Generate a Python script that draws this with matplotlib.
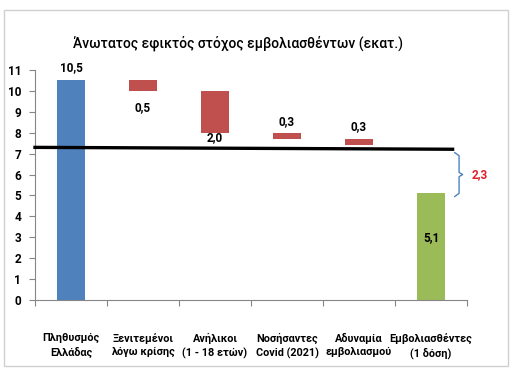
import matplotlib
matplotlib.use('Agg')
from matplotlib import pyplot as plt
from matplotlib.patches import Rectangle

plt.rcParams['font.family'] = ['Roboto', 'DejaVu Sans']

# Δεδομένα
kathgories = ['Πληθυσμός\nΕλλάδας', 'Ξενιτεμένοι\nλόγω κρίσης', 'Ανήλικοι\n(1 - 18 ετών)',
              'Νοσήσαντες\nCovid (2021)', 'Αδυναμία\nεμβολιασμού', 'Εμβολιασθέντες\n(1 δόση)']
times = [10.5, 0.5, 2.0, 0.3, 0.3, 5.1]
etiketes = ['10,5', '0,5', '2,0', '0,3', '0,3', '5,1']
diafora = '2,3'
xrwmata = ['#4F81BD', '#C0504D', '#C0504D', '#C0504D', '#C0504D', '#9BBB59']

# Βάσεις του waterfall
bases = [0]
trexon = times[0]
for v in times[1:5]:
    trexon -= v
    bases.append(trexon)
bases.append(0)
stoxos = trexon  # 7,4

fig = plt.figure(figsize=(5.26, 3.83), dpi=100)
ax = fig.add_axes([35 / 526, 1 - 300 / 383, 432 / 526, 230 / 383])

x = list(range(len(kathgories)))
ax.bar(x, times, bottom=bases, width=0.39, color=xrwmata, zorder=2)

# Ετικέτες τιμών
lbl = dict(ha='center', va='center', fontsize=8.5, fontweight='bold', clip_on=False)
ax.text(0, times[0] + 0.6, etiketes[0], **lbl)
ax.text(1, bases[1] - 0.8, etiketes[1], **lbl)
ax.text(2, bases[2] - 0.25, etiketes[2], zorder=4, **lbl)
ax.text(3, bases[3] + times[3] + 0.55, etiketes[3], **lbl)
ax.text(4, bases[4] + times[4] + 0.6, etiketes[4], **lbl)
ax.text(5, 3.0, etiketes[5], **lbl)

# Γραμμή στόχου
ax.plot([-0.5, 5.3], [stoxos - 0.1, stoxos - 0.19], color='black', lw=2.4, zorder=3,
        clip_on=False)

# Άγκιστρο
bx0, bx1 = 5.33, 5.44
top, bot = stoxos - 0.35, times[5] - 0.15
mid = (top + bot) / 2
ax.plot([bx0, bx1 - 0.05, bx1 - 0.05, bx1, bx1 - 0.05, bx1 - 0.05, bx0],
        [top, top - 0.15, mid + 0.1, mid, mid - 0.1, bot + 0.15, bot],
        color='#4F81BD', lw=1, clip_on=False)
ax.text(5.68, mid, diafora, color='#E0202A', fontsize=8.5, fontweight='bold',
        ha='center', va='center', clip_on=False)

ax.set_xlim(-0.5, 5.5)
ax.set_ylim(0, 11)
ax.set_yticks(range(12))
ax.set_xticks([i + 0.5 for i in range(-1, 6)])
ax.set_xticklabels([])
ax.set_xticks(x, minor=True)
ax.set_xticklabels(kathgories, minor=True, fontsize=7.8, fontweight='bold', linespacing=1.35)
ax.tick_params(axis='x', which='minor', length=0, pad=24)
ax.tick_params(axis='x', which='major', length=4, direction='out', color='#868686')
ax.tick_params(axis='y', length=4, direction='out', color='#868686', labelsize=8.5, pad=6)
for t in ax.get_yticklabels():
    t.set_fontweight('bold')
for s in ['top', 'right']:
    ax.spines[s].set_visible(False)
for s in ['left', 'bottom']:
    ax.spines[s].set_color('#868686')

fig.text(238 / 526, 1 - 43 / 383, 'Άνωτατος εφικτός στόχος εμβολιασθέντων (εκατ.)',
         ha='center', va='center', fontsize=10, fontweight='medium')

# Πλαίσιο
fig.patches.append(Rectangle((4 / 526, 1 - 366 / 383), 504 / 526, 356 / 383,
                             transform=fig.transFigure, fill=False, ec='#D0D0D0', lw=1))

fig.savefig('out.png', dpi=100)
